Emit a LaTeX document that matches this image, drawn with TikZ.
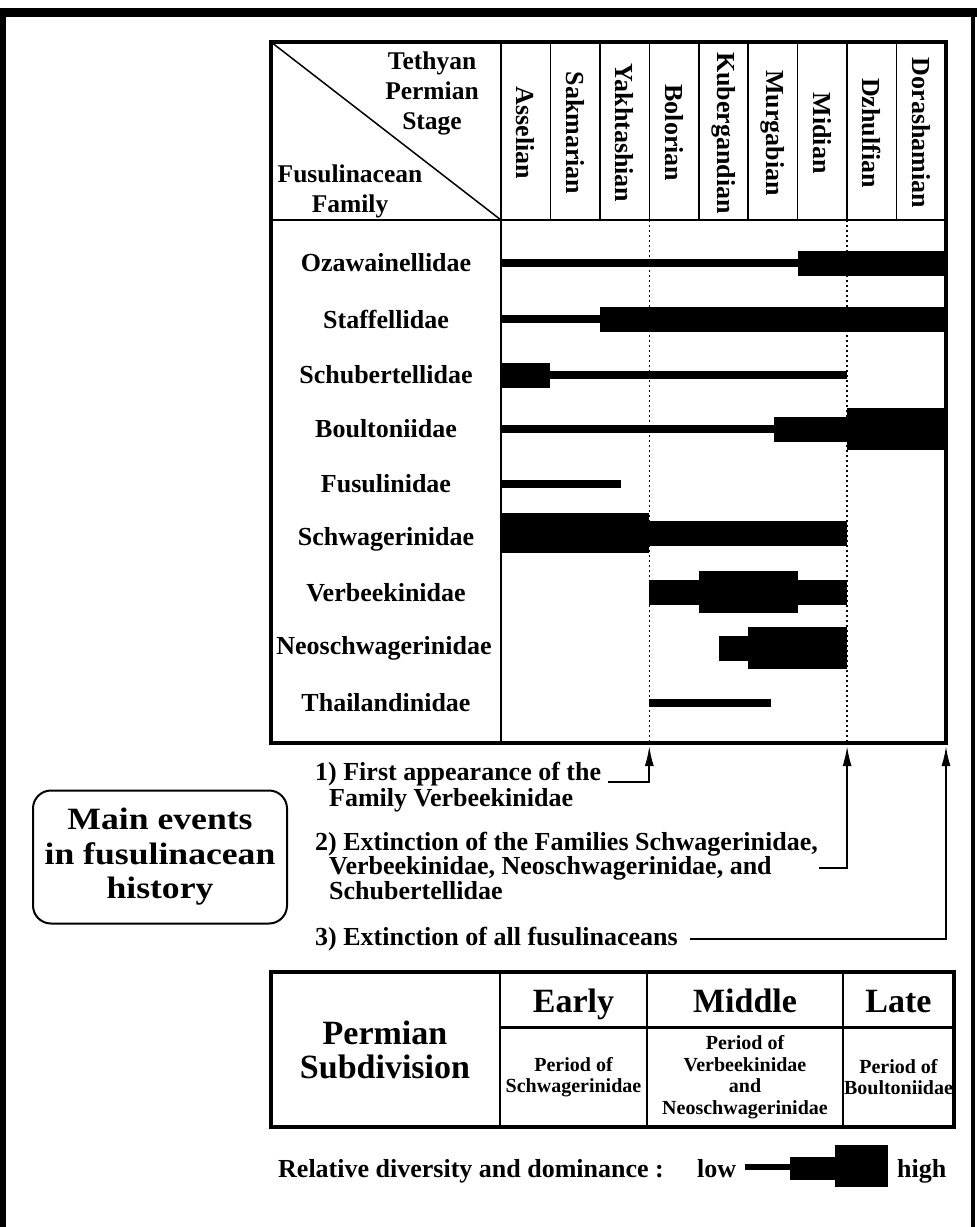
\documentclass[tikz,border=0pt]{standalone}
\usepackage{fontspec}
\setmainfont{Liberation Serif}
\newfontfamily\cajafont[FakeStretch=1.15]{Liberation Serif}
\usepackage{tikz}
\usetikzlibrary{arrows.meta, positioning}
\tikzset{
  familia/.style={font=\bfseries\fontsize{26}{30}\selectfont, inner sep=0pt},
  etapa/.style={rotate=-90, font=\bfseries\fontsize{26}{30}\selectfont, inner sep=0pt},
  cabecera/.style={align=center, font=\bfseries\fontsize{25.5}{30}\selectfont, inner sep=0pt},
  evento/.style={anchor=base west, font=\bfseries\fontsize{26}{30}\selectfont, inner sep=0pt},
  periodo/.style={align=center, font=\bfseries\fontsize{20}{21.5}\selectfont, inner sep=0pt},
  grande/.style={align=center, font=\bfseries\fontsize{34}{34}\selectfont, inner sep=0pt},
  caja/.style={draw, line width=2pt, rounded corners=18pt, align=center,
    minimum width=254pt, minimum height=133pt,
    font=\cajafont\bfseries\fontsize{31}{34.5}\selectfont},
  marco/.style={line width=4pt},
  linea/.style={line width=1.5pt},
  punteada/.style={line width=1.3pt, dash pattern=on 2pt off 3pt},
  flecha/.style={-{Latex[length=20pt, width=9pt]}, line width=1.8pt}
}
\begin{document}
\begin{tikzpicture}[x=1pt, y=-1pt]
  \useasboundingbox (0,0) rectangle (977,1227);
  % page frame
  \draw[line width=9pt] (0,12.5) -- (977,12.5);
  \draw[line width=6pt] (3,8) -- (3,1227);
  \draw[line width=4pt] (973,8) -- (973,1227);
  % stage table
  \draw[punteada] (649.3,220) -- (649.3,743);
  \draw[punteada] (847.1,220) -- (847.1,743);
  \draw[linea] (271,42) -- (501,220);
  \draw[linea] (501,42) -- (501,743);
  \draw[linea] (550.4,42) -- (550.4,220);
  \draw[linea] (599.9,42) -- (599.9,220);
  \draw[linea] (649.3,42) -- (649.3,220);
  \draw[linea] (698.8,42) -- (698.8,220);
  \draw[linea] (748.2,42) -- (748.2,220);
  \draw[linea] (797.7,42) -- (797.7,220);
  \draw[linea] (847.1,42) -- (847.1,220);
  \draw[linea] (896.6,42) -- (896.6,220);
  \draw[line width=2.5pt] (271,220) -- (946,220);
  \node[cabecera] (tet) at (432,93) {Tethyan\\Permian\\Stage};
  \node[cabecera] (fam) at (350,191) {Fusulinacean\\Family};
  \node[etapa] (asse) at (525.7,133) {Asselian};
  \node[etapa] (sakm) at (575.2,133) {Sakmarian};
  \node[etapa] (yakh) at (624.6,133) {Yakhtashian};
  \node[etapa] (bolo) at (674.1,133) {Bolorian};
  \node[etapa] (kube) at (723.5,133) {Kubergandian};
  \node[etapa] (murg) at (773.0,133) {Murgabian};
  \node[etapa] (midi) at (822.4,133) {Midian};
  \node[etapa] (dzhu) at (871.9,133) {Dzhulfian};
  \node[etapa] (dora) at (921.3,133) {Dorashamian};
  \node[familia] (ozaw) at (386,263) {Ozawainellidae};
  \node[familia] (staf) at (386,319) {Staffellidae};
  \node[familia] (schu) at (386,375) {Schubertellidae};
  \node[familia] (boul) at (386,429) {Boultoniidae};
  \node[familia] (fusu) at (386,484) {Fusulinidae};
  \node[familia] (schw) at (386,539) {Schwagerinidae};
  \node[familia] (verb) at (386,593) {Verbeekinidae};
  \node[familia] (neos) at (384,648) {Neoschwagerinidae};
  \node[familia] (thai) at (386,703) {Thailandinidae};
  % ranges
  \fill (501,259) rectangle (797.7,267);
  \fill (797.7,250.5) rectangle (946,275.5);
  \fill (501,315) rectangle (599.9,323);
  \fill (599.9,306.5) rectangle (946,331.5);
  \fill (501,362.5) rectangle (550.4,387.5);
  \fill (550.4,371) rectangle (847.1,379);
  \fill (501,425) rectangle (774,433);
  \fill (774,416.5) rectangle (847.1,441.5);
  \fill (847.1,408) rectangle (946,450);
  \fill (501,480) rectangle (621,488);
  \fill (501,513) rectangle (649.3,553);
  \fill (649.3,520.5) rectangle (847.1,545.5);
  \fill (649.3,579.5) rectangle (698.8,604.5);
  \fill (698.8,571) rectangle (797.7,613);
  \fill (797.7,579.5) rectangle (847.1,604.5);
  \fill (719,636) rectangle (748.2,661);
  \fill (748.2,627) rectangle (847.1,669);
  \fill (649.3,699) rectangle (771,707);
  \draw[marco] (271,42) rectangle (946,743);
  % events
  \coordinate (bol) at (649.3,746);
  \coordinate (dzh) at (847.1,746);
  \coordinate (fin) at (946,746);
  \node[caja] (hist) at (160,857) {Main events\\in fusulinacean\\history};
  \node[evento] (ev1a) at (315,780) {1) First appearance of the};
  \node[evento] (ev1b) at (329,806) {Family Verbeekinidae};
  \node[evento] (ev2a) at (315,850) {2) Extinction of the Families Schwagerinidae,};
  \node[evento] (ev2b) at (329,874) {Verbeekinidae, Neoschwagerinidae, and};
  \node[evento] (ev2c) at (329,899) {Schubertellidae};
  \node[evento] (ev3) at (315,945) {3) Extinction of all fusulinaceans};
  \draw[flecha] ([xshift=7pt, yshift=-2pt]ev1a.base east) -| (bol);
  \draw[flecha] ([xshift=47pt]ev2b.east) -| (dzh);
  \draw[flecha] ([xshift=12pt]ev3.east) -| (fin);
  % subdivision
  \draw[linea] (500,972) -- (500,1127);
  \draw[linea] (647,972) -- (647,1127);
  \draw[linea] (843,972) -- (843,1127);
  \draw[line width=3pt] (500,1027) -- (954,1027);
  \draw[marco] (271,972) rectangle (954,1127);
  \node[grande] (perm) at (385,1050) {Permian\\Subdivision};
  \node[grande, anchor=base] (earl) at (573.5,1012) {Early};
  \node[grande, anchor=base] (midd) at (745,1012) {Middle};
  \node[grande, anchor=base] (late) at (898.5,1012) {Late};
  \node[periodo] (pesc) at (573.5,1077) {Period of\\Schwagerinidae};
  \node[periodo] (peve) at (745,1077) {Period of\\Verbeekinidae\\and\\Neoschwagerinidae};
  \node[periodo] (pebo) at (898.5,1077) {Period of\\Boultoniidae};
  % legend
  \node[evento] (rel) at (278,1177) {Relative diversity and dominance :};
  \node[evento] (low) at (697,1177) {low};
  \node[evento] (high) at (897,1177) {high};
  \fill (745,1164) rectangle (790,1170);
  \fill (790,1156.5) rectangle (835,1179.5);
  \fill (835,1145) rectangle (888,1187);
\end{tikzpicture}
\end{document}
